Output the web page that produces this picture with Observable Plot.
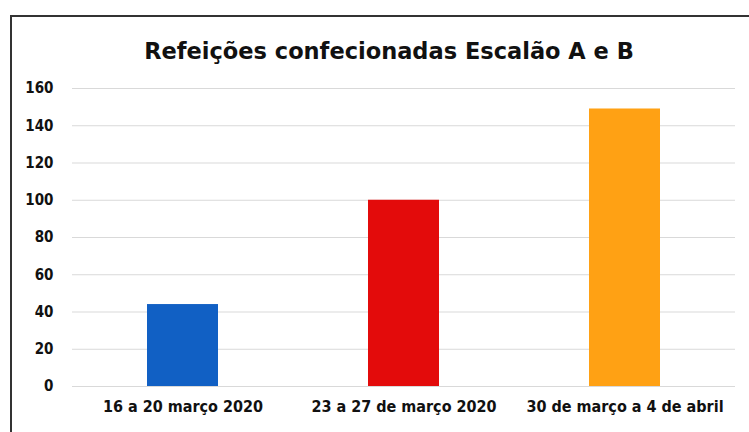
<!DOCTYPE html>
<html>
<head>
<meta charset="utf-8">
<script src="https://cdn.jsdelivr.net/npm/d3@7"></script>
<script src="https://cdn.jsdelivr.net/npm/@observablehq/plot@0.6"></script>
<style>
  html, body { margin: 0; padding: 0; background: #fff; }
  #wrap { position: relative; width: 749px; height: 432px; overflow: hidden; }
  #border { position: absolute; left: 10px; top: 15px; width: 745px; height: 430px;
            border-top: 2px solid #333; border-left: 2px solid #333; box-sizing: border-box; }
  #chart { position: absolute; left: 0; top: 0; }
  #chart g[aria-label="x-axis tick label"] { font-size: 16px; }
</style>
</head>
<body>
<div id="wrap"><div id="chart"></div><div id="border"></div></div>
<script>
const title = "Refeições confecionadas Escalão A e B";
const categories = ["16 a 20 março 2020", "23 a 27 de março 2020", "30 de março a 4 de abril"];
const values = [44, 100, 149];
const colors = ["#1160c4", "#e30b0b", "#ffa114"];
const yTicks = [0, 20, 40, 60, 80, 100, 120, 140, 160];

const data = categories.map((c, i) => ({cat: c, value: values[i], color: colors[i]}));

const chart = Plot.plot({
  width: 749,
  height: 432,
  marginTop: 88,
  marginBottom: 46,
  marginLeft: 72,
  marginRight: 14,
  style: {fontFamily: "'DejaVu Sans Condensed', 'DejaVu Sans', sans-serif", fontWeight: "bold", fontSize: "15px", color: "#111", background: "transparent"},
  x: {domain: categories, paddingInner: 0.68, paddingOuter: 0.34, label: null, tickSize: 0, tickPadding: 14},
  y: {domain: [0, 160], ticks: yTicks, label: null, tickSize: 0, tickPadding: 19},
  marks: [
    Plot.gridY(yTicks, {stroke: "#d9d9d9", strokeOpacity: 1, strokeWidth: 1}),
    Plot.barY(data, {x: "cat", y: "value", fill: "color"}),
    Plot.text([title], {frameAnchor: "top", dx: -15, dy: -45, fontFamily: "'DejaVu Sans', Verdana, sans-serif", fontWeight: "bold", fontSize: 22.5, fill: "#111"})
  ]
});
document.getElementById("chart").appendChild(chart);
</script>
</body>
</html>
